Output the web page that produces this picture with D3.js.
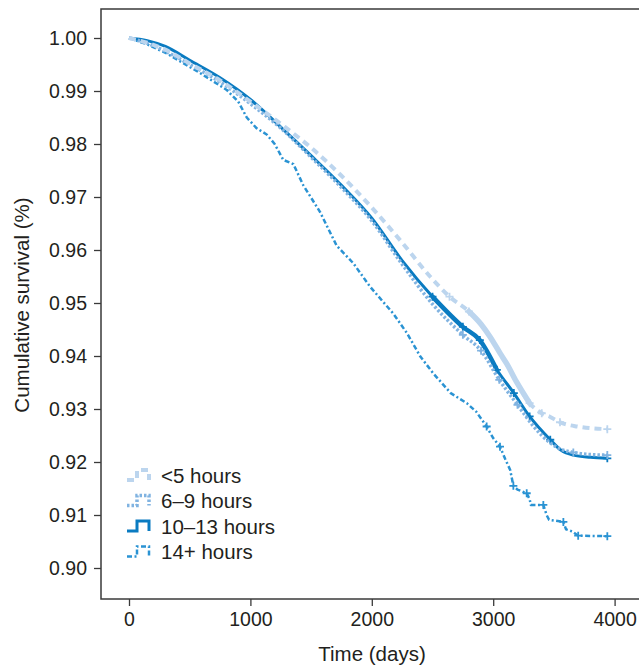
<!DOCTYPE html>
<html>
<head>
<meta charset="utf-8">
<script src="https://cdn.jsdelivr.net/npm/d3@7"></script>
<style>
  body { margin: 0; background: #fff; }
  text { font-family: "Liberation Sans", Arial, sans-serif; fill: #231f20; }
</style>
</head>
<body>
<div id="chart"></div>
<script>
// survival curves: [day, cumulative survival]
var under5 = [[0,1.0000],[150,0.9991],[300,0.9978],[500,0.9952],[750,0.9920],[1000,0.9880],[1250,0.9838],[1500,0.9793],
  [1750,0.9740],[2000,0.9680],[2250,0.9614],[2480,0.9550],[2640,0.9512],[2800,0.9484],[2900,0.9460],[2975,0.9436],
  [3060,0.9404],[3110,0.9386],[3190,0.9352],[3300,0.9311],[3400,0.9292],[3470,0.9285],[3550,0.9275],[3690,0.9267],
  [3940,0.9262]];
var h6to9 = [[0,1.0000],[150,0.9990],[300,0.9975],[500,0.9950],[750,0.9917],[1000,0.9876],[1250,0.9830],[1500,0.9775],
  [1750,0.9718],[2000,0.9655],[2250,0.9573],[2500,0.9498],[2750,0.9440],[2900,0.9410],[3050,0.9355],[3200,0.9308],
  [3330,0.9268],[3470,0.9236],[3560,0.9224],[3660,0.9218],[3800,0.9214],[3940,0.9213]];
var h10to13 = [[0,1.0000],[150,0.9995],[300,0.9984],[500,0.9958],[750,0.9925],[1000,0.9884],[1250,0.9832],[1500,0.9778],
  [1750,0.9722],[2000,0.9660],[2250,0.9580],[2500,0.9512],[2750,0.9455],[2890,0.9430],[3030,0.9374],[3170,0.9330],
  [3300,0.9286],[3470,0.9242],[3560,0.9222],[3660,0.9213],[3800,0.9209],[3940,0.9207]];
var h14plus = [[0,1.0000],[150,0.9988],[310,0.9971],[585,0.9934],[805,0.9902],[900,0.9880],[970,0.9850],[1050,0.9830],
  [1134,0.9818],[1200,0.9800],[1271,0.9770],[1354,0.9762],[1436,0.9722],[1573,0.9672],[1711,0.9608],[1848,0.9575],
  [1985,0.9531],[2177,0.9480],[2290,0.9443],[2400,0.9399],[2507,0.9367],[2650,0.9330],[2782,0.9311],[2860,0.9295],
  [2946,0.9267],[3000,0.9245],[3056,0.9229],[3100,0.9205],[3140,0.9185],[3166,0.9155],[3200,0.9148],[3276,0.9141],
  [3300,0.9130],[3310,0.9119],[3413,0.9119],[3440,0.9100],[3460,0.9091],[3578,0.9087],[3600,0.9073],[3650,0.9069],
  [3700,0.9061],[3940,0.9060]];

// censored observations (days), drawn as "+" on the curve
var cens5 = [2640, 2800, 3300, 3400, 3550, 3940];
var cens6to9 = [2750, 2900, 3050, 3200, 3660, 3940];
var cens10to13 = [2500, 2750, 2890, 3030, 3170, 3300, 3470, 3940];
var cens14 = [2946, 3056, 3166, 3276, 3413, 3578, 3700, 3940];

// day ranges where censor marks are so dense they merge into a solid band
var band5 = [2800, 3300];
var band10to13 = [2450, 3100];

var groupLabels = ["<5 hours", "6\u20139 hours", "10\u201313 hours", "14+ hours"];
var xTicks = [0, 1000, 2000, 3000, 4000];
var yTicks = [0.90, 0.91, 0.92, 0.93, 0.94, 0.95, 0.96, 0.97, 0.98, 0.99, 1.00];

var series = [
  { data: under5, cens: cens5, band: band5, color: "#bcd5ee", width: 4, dash: "7,5" },
  { data: h6to9, cens: cens6to9, band: null, color: "#80b3e1", width: 3.5, dash: "2.5,2" },
  { data: h10to13, cens: cens10to13, band: band10to13, color: "#0a7bc1", width: 3, dash: null },
  { data: h14plus, cens: cens14, band: null, color: "#2a93d3", width: 2.5, dash: "5,2.5,2,2.5" }
];

var width = 639, height = 668;
var box = { left: 101, top: 9, right: 645, bottom: 599 };

var svg = d3.select("#chart").append("svg")
  .attr("width", width)
  .attr("height", height);

var x = d3.scaleLinear().domain([0, 4000]).range([129, 614.6]);
var y = d3.scaleLinear().domain([0.90, 1.00]).range([568, 38]);

// frame (right edge falls outside the picture)
svg.append("rect")
  .attr("x", box.left).attr("y", box.top)
  .attr("width", box.right - box.left).attr("height", box.bottom - box.top)
  .attr("fill", "none").attr("stroke", "#3a3a3a").attr("stroke-width", 1.5);

// axes
var xAxis = svg.append("g")
  .attr("transform", "translate(0," + box.bottom + ")")
  .call(d3.axisBottom(x).tickValues(xTicks).tickSize(7).tickPadding(6).tickFormat(d3.format("d")));
var yAxis = svg.append("g")
  .attr("transform", "translate(" + box.left + ",0)")
  .call(d3.axisLeft(y).tickValues(yTicks).tickSize(7).tickPadding(7).tickFormat(d3.format(".2f")));

[xAxis, yAxis].forEach(function (g) {
  g.select(".domain").remove();
  g.selectAll(".tick line").attr("stroke", "#3a3a3a").attr("stroke-width", 1.3);
  g.selectAll(".tick text").style("font-size", "19.5px").attr("fill", "#231f20");
});

svg.append("text")
  .attr("x", 372).attr("y", 661)
  .attr("text-anchor", "middle")
  .style("font-size", "20.5px")
  .text("Time (days)");

svg.append("text")
  .attr("transform", "translate(29,305) rotate(-90)")
  .attr("text-anchor", "middle")
  .style("font-size", "20.5px")
  .text("Cumulative survival (%)");

// curves
var line = d3.line()
  .x(function (d) { return x(d[0]); })
  .y(function (d) { return y(d[1]); });

var plot = svg.append("g");

series.slice().reverse().forEach(function (s) {
  var smooth = s.data === h14plus ? d3.curveLinear : d3.curveMonotoneX;
  line.curve(smooth);
  plot.append("path")
    .datum(s.data)
    .attr("d", line)
    .attr("fill", "none")
    .attr("stroke", s.color)
    .attr("stroke-width", s.width)
    .attr("stroke-dasharray", s.dash)
    .attr("stroke-linejoin", "round");

  if (s.band) {
    var seg = s.data.filter(function (d) { return d[0] >= s.band[0] && d[0] <= s.band[1]; });
    plot.append("path")
      .datum(seg)
      .attr("d", line)
      .attr("fill", "none")
      .attr("stroke", s.color)
      .attr("stroke-width", s.width + 1.5)
      .attr("stroke-linecap", "round");
  }

  // censor marks
  var pts = s.cens.map(function (day) {
    return s.data.find(function (d) { return d[0] === day; });
  }).filter(Boolean);
  plot.selectAll(null)
    .data(pts)
    .enter()
    .append("path")
    .attr("d", function (d) {
      var cx = x(d[0]), cy = y(d[1]);
      return "M" + (cx - 4) + "," + cy + "H" + (cx + 4) + "M" + cx + "," + (cy - 4) + "V" + (cy + 4);
    })
    .attr("stroke", s.color)
    .attr("stroke-width", 1.8)
    .attr("fill", "none");
});

// legend
var legend = svg.append("g");
series.forEach(function (s, i) {
  var cy = 475 + i * 25.5;
  legend.append("path")
    .attr("d", "M127," + (cy + 5) + "H137V" + (cy - 5) + "H149V" + (cy + 5))
    .attr("fill", "none")
    .attr("stroke", s.color)
    .attr("stroke-width", s.width)
    .attr("stroke-dasharray", s.dash);
  legend.append("text")
    .attr("x", 161).attr("y", cy + 7.5)
    .style("font-size", "20.5px")
    .text(groupLabels[i]);
});
</script>
</body>
</html>
